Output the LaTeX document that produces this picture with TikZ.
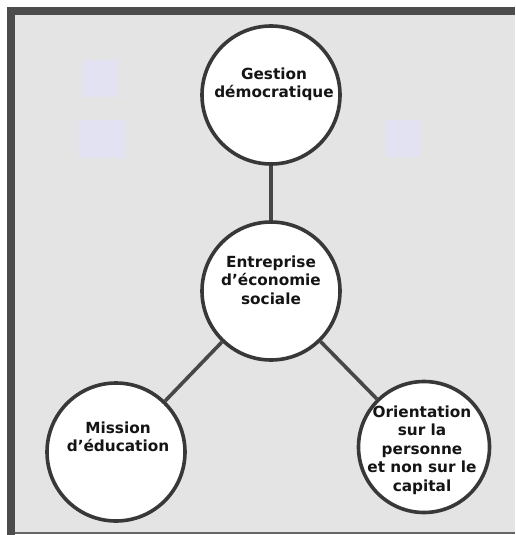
\documentclass[tikz,border=0pt]{standalone}
\usepackage{fontspec}
\setmainfont{DejaVu Sans}
\definecolor{panelfill}{RGB}{228,228,228}
\definecolor{tintfill}{RGB}{226,226,242}
\begin{document}
\begin{tikzpicture}[x=1pt,y=-1pt,
  panelgray/.style={fill=panelfill},
  framebar/.style={fill=black!70},
  bubble/.style={circle,draw=black!78,line width=3.6pt,fill=white,inner sep=0pt},
  link/.style={draw=black!72,line width=3.6pt},
  caption/.style={align=center,anchor=base,inner sep=0pt,text=black!92,
    font=\fontsize{15.3}{18.6}\selectfont\bfseries},
  tint/.style={fill=tintfill}]
\useasboundingbox (0,0) rectangle (515,535);
% page and panel
\fill[white] (0,0) rectangle (515,535);
\fill[panelgray] (11,11) rectangle (515,532);
\fill[framebar] (7,7) rectangle (515,15);
\fill[framebar] (7,7) rectangle (15,535);
\fill[black!60] (15,531.5) rectangle (515,534);
% faint tinted squares
\fill[tint] (83,60) rectangle (118,97);
\fill[tint] (79,120) rectangle (125,158);
\fill[tint] (386,120) rectangle (420,157);
% circles
\node[bubble,minimum size=138pt] (gd)  at (271,95)  {};
\node[bubble,minimum size=138pt] (ees) at (271,291) {};
\node[bubble,minimum size=138pt] (me)  at (116,452) {};
\node[bubble,minimum size=131pt] (osp) at (424,447) {};
% connectors
\path[link] (gd) -- (ees);
\path[link] (ees) -- (me);
\path[link] (ees) -- (osp);
% texts (anchored on the baseline of the last line)
\node[caption] (gdt)  at (274,97.6)  {Gestion\\démocratique};
\node[caption] (eest) at (271,304.2) {Entreprise\\d’économie\\sociale};
\node[caption] (met)  at (118,451.6) {Mission\\d’éducation};
\node[caption] (ospt) at (422,491.4) {Orientation\\sur la\\personne\\et non sur le\\capital};
\end{tikzpicture}
\end{document}
